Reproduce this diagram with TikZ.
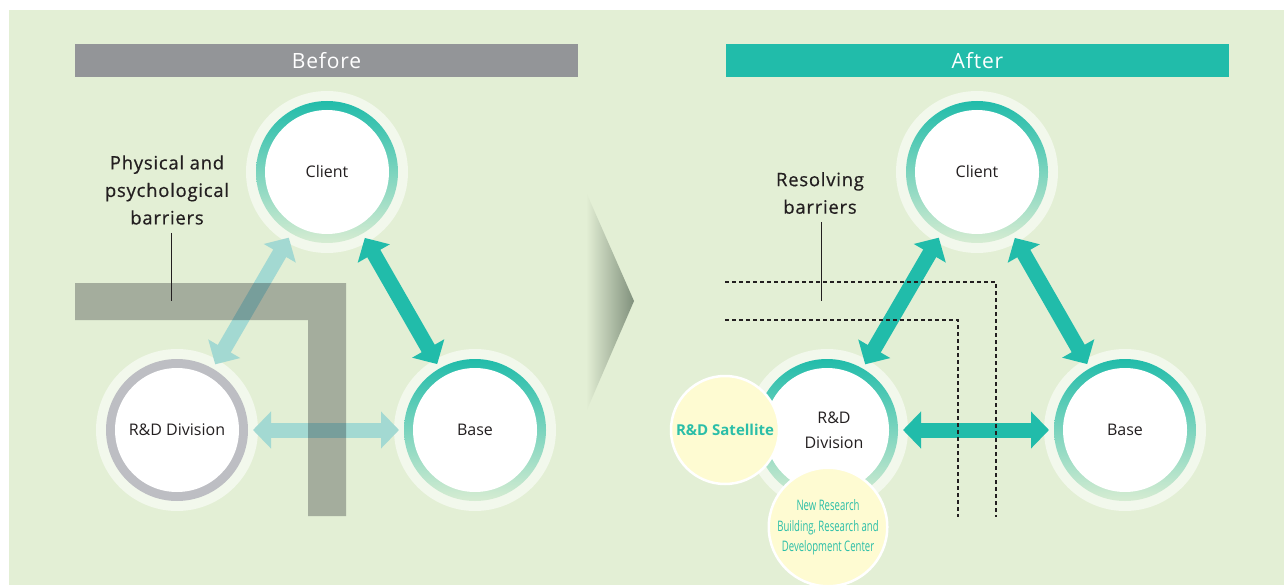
\documentclass[tikz,border=0pt]{standalone}
\usepackage{fontspec}
\setmainfont{Open Sans}
\usetikzlibrary{arrows.meta,calc}
\definecolor{bg}{RGB}{227,239,213}
\definecolor{halo}{RGB}{242,248,236}
\definecolor{tealc}{RGB}{33,188,170}
\definecolor{ringlight}{RGB}{214,236,210}
\definecolor{lightarrow}{RGB}{163,217,210}
\definecolor{greyring}{RGB}{189,190,195}
\definecolor{hdrgrey}{RGB}{147,149,152}
\definecolor{satfill}{RGB}{254,251,210}
\definecolor{txt}{RGB}{35,31,32}
\definecolor{barc}{RGB}{20,23,30}
\definecolor{chev}{RGB}{128,144,124}
\definecolor{sattext}{RGB}{43,190,168}
\newcommand{\ringcirc}[4]{%
  \node[circle, fill=halo, minimum size=162pt, inner sep=0] at (#2) {};
  \node[circle, #3, minimum size=142pt, inner sep=0] at (#2) {};
  \node[circle, fill=white, minimum size=124pt, inner sep=0, align=center, labelfont] (#1) at (#2) {#4};
}
\newcommand{\dblarrow}[3]{%
  \draw[#1, dblarr] ($(#2)!76pt!(#3)$) -- ($(#3)!76pt!(#2)$);
}
\begin{document}
\begin{tikzpicture}[x=1pt,y=-1pt,
  labelfont/.style={font=\fontsize{16}{25}\selectfont, text=txt},
  tealring/.style={top color=tealc, bottom color=ringlight},
  greyringst/.style={fill=greyring},
  dblarr/.style={line width=15pt, {Triangle[width=36pt,length=18pt]}-{Triangle[width=36pt,length=18pt]}},
  header/.style={minimum width=503pt, minimum height=33pt, inner sep=0, text=white,
     font=\fontsize{21}{21}\selectfont\addfontfeatures{LetterSpace=4}},
  barrlabel/.style={align=center, text=txt,
     font=\fontsize{18.5}{27.5}\selectfont\addfontfeatures{LetterSpace=4,FakeBold=0.5}},
  leader/.style={draw=txt, line width=0.9pt},
  dashline/.style={draw=txt, line width=1.1pt, dash pattern=on 4pt off 3pt},
  sat/.style={circle, fill=satfill, draw=white, line width=2.5pt, minimum size=108pt, inner sep=0, align=center, text=sattext}
]
\useasboundingbox (0,0) rectangle (1284,585);
\fill[bg] (9,10) rectangle (1284,585);

% headers
\node[header, fill=hdrgrey] (hb) at (326.5,60.5) {Before};
\node[header, fill=tealc] (ha) at (977.5,60.5) {After};

% chevron
\shade[left color=bg, right color=chev] (586,192) -- (634,301) -- (586,412) -- cycle;

% ---------- Before ----------
\ringcirc{c1}{327,172}{tealring}{Client}
\ringcirc{r1}{177,430}{greyringst}{R\&D Division}
\ringcirc{b1}{475,430}{tealring}{Base}

\dblarrow{lightarrow}{c1}{r1}
\dblarrow{lightarrow}{r1}{b1}
\dblarrow{tealc}{c1}{b1}

\fill[barc, fill opacity=0.3] (75,283) -- (346,283) -- (346,516) -- (308,516) -- (308,320) -- (75,320) -- cycle;

\node[barrlabel] (pl) at (167,190) {Physical and\\psychological\\barriers};
\draw[leader] (171,233) -- (171,301);

% ---------- After ----------
\ringcirc{c2}{977,172}{tealring}{Client}
\ringcirc{r2}{827,430}{tealring}{}
\ringcirc{b2}{1125,430}{tealring}{Base}
\node[labelfont, align=center] (r2l) at (834,430) {R\&D\\Division};

\dblarrow{tealc}{c2}{r2}
\dblarrow{tealc}{r2}{b2}
\dblarrow{tealc}{c2}{b2}

\draw[dashline] (725,282) -- (996,282) -- (996,517);
\draw[dashline] (725,320) -- (958,320) -- (958,517);

\node[barrlabel] (rl) at (820,193) {Resolving\\barriers};
\draw[leader] (821,222) -- (821,301);

\node[sat, font=\fontsize{15}{18}\selectfont\bfseries] (s1) at (725,430) {R\&D Satellite};
\node[sat] (s2) at (828,527) {\scalebox{0.66}[1]{\fontsize{14.5}{20.5}\selectfont\begin{tabular}{@{}c@{}}New Research\\Building, Research and\\Development Center\end{tabular}}};
\end{tikzpicture}
\end{document}
